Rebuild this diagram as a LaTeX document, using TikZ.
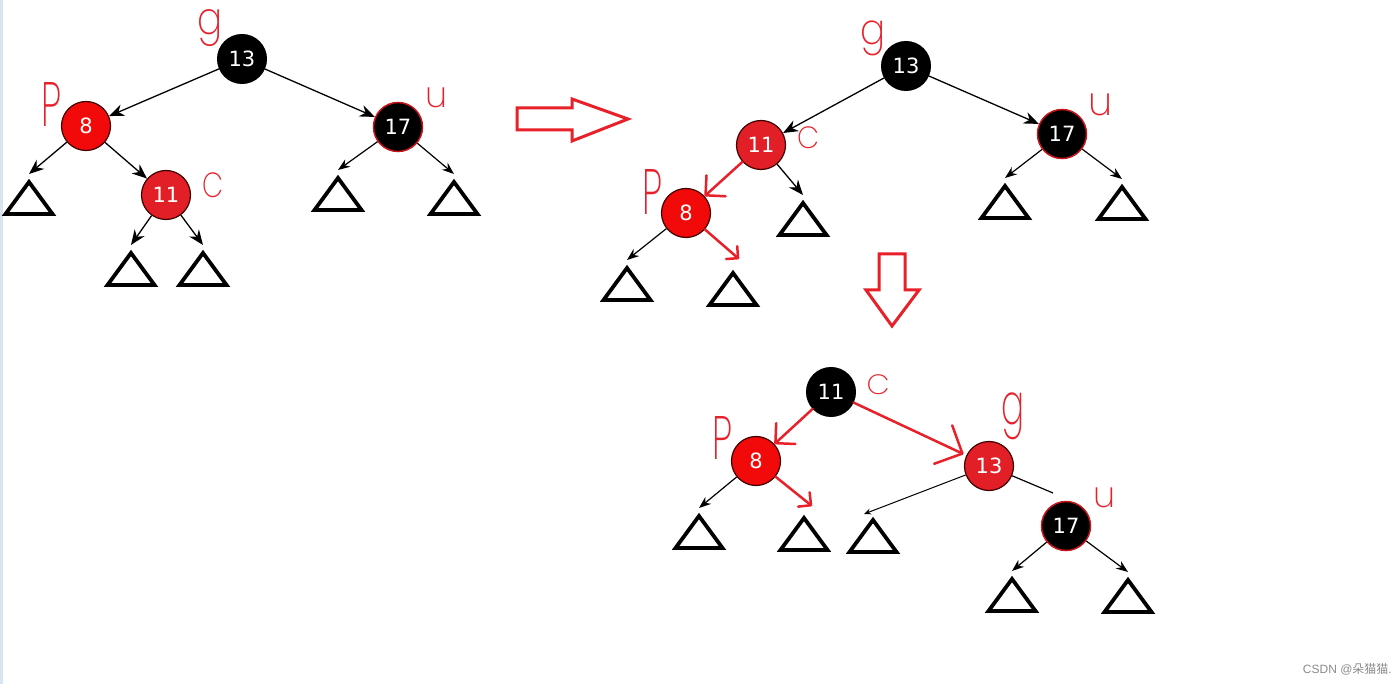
\documentclass[tikz,border=0pt]{standalone}
\usepackage{fontspec}
\usepackage{graphicx}
\setmainfont{DejaVu Sans}
\newfontfamily\numfont{DejaVu Sans}
\newfontfamily\hand{Poppins}[UprightFont={* ExtraLight}]
\newfontfamily\wmlat{Liberation Sans}
\newfontfamily\cjk{Noto Sans CJK SC}
\usetikzlibrary{arrows.meta}
\definecolor{nred}{HTML}{F20A0A}
\definecolor{nred2}{HTML}{E21F26}
\definecolor{hred}{HTML}{E8202A}
\definecolor{ored}{HTML}{C8141A}
\definecolor{strip}{HTML}{D9E4F0}
\tikzset{
  rb/.style={circle, minimum size=49pt, inner sep=0pt, font=\numfont\fontsize{21}{21}\selectfont, text=white},
  blk/.style={rb, fill=black, draw=black, line width=1pt},
  blkr/.style={rb, fill=black, draw=ored, line width=1.5pt},
  redn/.style={rb, fill=nred, draw=black!75!red, line width=1.2pt},
  redm/.style={rb, fill=nred2, draw=black!75!red, line width=1.2pt},
  barrow/.style={draw=black, line width=1.3pt, -{Stealth[length=15pt,width=12pt]}},
  sarrow/.style={draw=black, line width=1.2pt, -{Stealth[length=12pt,width=9pt]}},
  tarrow/.style={draw=black, line width=1pt, -{Stealth[length=7pt,width=6pt]}},
  rarrow/.style={draw=hred, line width=2.5pt, line cap=round, -{Straight Barb[angle=90:#1, round]}},
  tri/.style={draw=black, line width=3.8pt, fill=white, line join=miter},
  hlab/.style={text=hred, font=\hand, inner sep=0pt},
  bigarr/.style={draw=hred, line width=3pt, fill=white, line join=miter},
}
\newcommand\mytri[3]{\coordinate (#1) at (#2,#3); \draw[tri] (#1) -- ++(-23.5,32) -- ++(47,0) -- cycle;}
\newcommand\hl[3]{\resizebox*{#1pt}{#2pt}{#3}}
\begin{document}
\begin{tikzpicture}[x=1pt,y=-1pt]
\fill[white] (0,0) rectangle (1400,684);
\fill[strip] (0,0) rectangle (3,684);
\useasboundingbox (0,0) rectangle (1400,684);

% ---------- tree 1 ----------
\node[blk]  (a13) at (242,59)  {13};
\node[redn] (a8)  at (86,126)  {8};
\node[blkr] (a17) at (398,127) {17};
\node[redm] (a11) at (166,195) {11};
\mytri{ta1}{29}{182}
\mytri{ta2}{131}{253}
\mytri{ta3}{203}{253}
\mytri{ta4}{338}{178}
\mytri{ta5}{454}{182}
\draw[barrow] (a13) -- (a8);
\draw[barrow] (a13) -- (a17);
\draw[barrow] (a8) -- ([yshift=8pt]ta1);
\draw[barrow] (a8) -- (a11);
\draw[barrow] (a11) -- ([yshift=8pt]ta2);
\draw[barrow] (a11) -- ([yshift=8pt]ta3);
\draw[sarrow] (a17) -- ([yshift=8pt]ta4);
\draw[sarrow] (a17) -- ([yshift=8pt]ta5);
\node[hlab] (ag) at (210,28)  {\hl{25}{37}{g}};
\node[hlab] (ap) at (52,105)  {\hl{20}{44}{P}};
\node[hlab] (ac) at (213,185) {\hl{21}{25}{C}};
\node[hlab] (au) at (436,98)  {\hl{22}{20}{u}};

% ---------- big right arrow ----------
\draw[bigarr] (517,108) -- (572,108) -- (572,99) -- (628,119) -- (572,141) -- (572,130) -- (517,130) -- cycle;

% ---------- tree 2 ----------
\node[blk]  (b13) at (906,66)   {13};
\node[redm] (b11) at (761,145)  {11};
\node[redn] (b8)  at (686,213)  {8};
\node[blkr] (b17) at (1062,134) {17};
\mytri{tb1}{627}{268}
\mytri{tb2}{733}{273}
\mytri{tb3}{803}{203}
\mytri{tb4}{1005}{186}
\mytri{tb5}{1122}{187}
\draw[barrow] (b13) -- (b11);
\draw[barrow] (b13) -- (b17);
\draw[rarrow=20pt] (b11) -- (b8);
\draw[barrow] (b11) -- ([yshift=8pt]tb3);
\draw[sarrow] (b8) -- ([yshift=8pt]tb1);
\draw[rarrow=12pt] (b8) -- ([xshift=6pt,yshift=14pt]tb2);
\draw[sarrow] (b17) -- ([yshift=8pt]tb4);
\draw[sarrow] (b17) -- ([yshift=8pt]tb5);
\node[hlab] (bg) at (873,38)   {\hl{25}{35}{g}};
\node[hlab] (bp) at (652,192)  {\hl{20}{45}{P}};
\node[hlab] (bc) at (808,138)  {\hl{22}{22}{C}};
\node[hlab] (bu) at (1100,105) {\hl{24}{22}{u}};

% ---------- big down arrow ----------
\draw[bigarr] (879,254) -- (905,254) -- (905,290) -- (919,290) -- (892,326) -- (866,290) -- (879,290) -- cycle;

% ---------- tree 3 ----------
\node[blk]  (c11) at (831,392)  {11};
\node[redn] (c8)  at (756,461)  {8};
\node[redm] (c13) at (989,466)  {13};
\node[blkr] (c17) at (1066,526) {17};
\mytri{tc1}{699}{516}
\mytri{tc2}{804}{518}
\mytri{tc3}{873}{520}
\mytri{tc4}{1012}{579}
\mytri{tc5}{1128}{580}
\coordinate (ce) at (1053,493);
\draw[rarrow=20pt] (c11) -- (c8);
\draw[rarrow=30pt, shorten >=3pt] (c11) -- (c13);
\draw[sarrow] (c8) -- ([yshift=8pt]tc1);
\draw[rarrow=13pt] (c8) -- ([xshift=8pt,yshift=12pt]tc2);
\draw[tarrow] (c13) -- ([xshift=-9pt,yshift=6pt]tc3);
\draw[draw=black, line width=1.2pt] (c13) -- (ce);
\draw[sarrow] (c17) -- ([yshift=8pt]tc4);
\draw[sarrow] (c17) -- ([yshift=8pt]tc5);
\node[hlab] (cc) at (878,385)  {\hl{23}{20}{C}};
\node[hlab] (cg) at (1013,416) {\hl{23}{47}{g}};
\node[hlab] (cp) at (722,438)  {\hl{20}{43}{P}};
\node[hlab] (cu) at (1104,498) {\hl{22}{20}{u}};

% ---------- watermark ----------
\node[anchor=east, text=black!45, inner sep=0pt, font=\wmlat\fontsize{12}{12}\selectfont] (wm) at (1392,669) {CSDN @{\cjk 朵猫猫}.};
\end{tikzpicture}
\end{document}
